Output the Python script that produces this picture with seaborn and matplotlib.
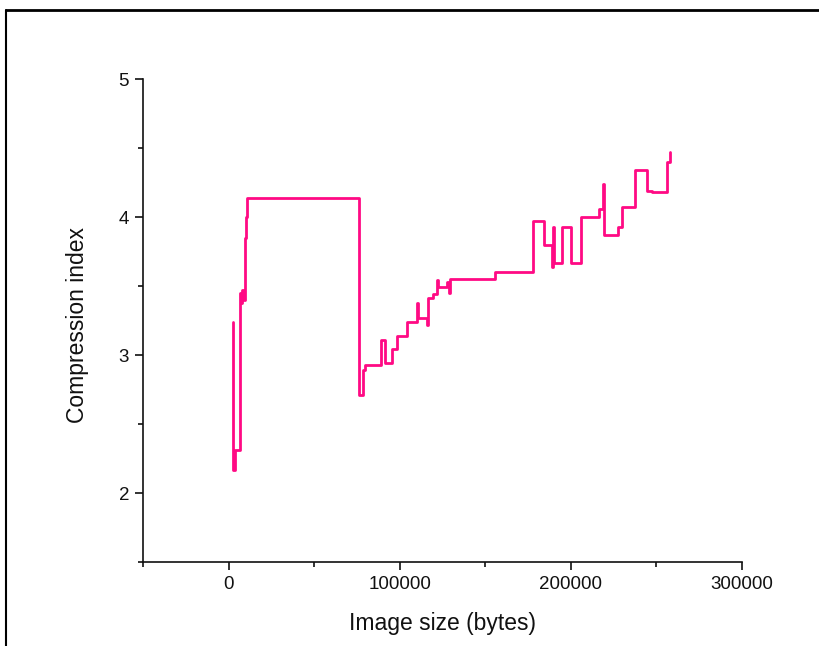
import matplotlib
matplotlib.use("Agg")
import matplotlib.pyplot as plt
from matplotlib.lines import Line2D
from matplotlib.ticker import MultipleLocator
import seaborn as sns
import pandas as pd

# Data: step series (x = image size in bytes, y = compression index)
image_size = [2300, 2400, 3800, 6400, 7200, 8000, 8800, 9400, 9900, 10500,
              76000, 78400, 79500, 88900, 91200, 95300, 98200, 104100,
              110000, 110500, 115800, 116400, 119300, 121600, 122200,
              127500, 128700, 129200, 155600, 177800, 184200, 188900,
              189500, 190000, 194700, 200000, 205800, 216400, 218700,
              219300, 227500, 229800, 237400, 244400, 247400, 256100,
              257900]
compression_index = [3.24, 2.17, 2.31, 3.45, 3.38, 3.47, 3.40, 3.85, 4.00,
                     4.14, 2.71, 2.89, 2.93, 3.11, 2.94, 3.04, 3.14, 3.24,
                     3.38, 3.27, 3.22, 3.41, 3.44, 3.54, 3.49, 3.53, 3.45,
                     3.55, 3.60, 3.97, 3.80, 3.64, 3.93, 3.67, 3.93, 3.67,
                     4.00, 4.06, 4.24, 3.87, 3.93, 4.07, 4.34, 4.19, 4.18,
                     4.40, 4.47]
x_ticks = [0, 100000, 200000, 300000]
y_ticks = [2, 3, 4, 5]

df = pd.DataFrame({"size": image_size, "ci": compression_index})

sns.set_style("ticks")
plt.rcParams["font.family"] = ["Liberation Sans", "DejaVu Sans"]

fig = plt.figure(figsize=(8.2, 6.46), dpi=100)
ax = fig.add_axes([143 / 820, 1 - 562 / 646, (742 - 143) / 820, (562 - 79) / 646])

sns.lineplot(data=df, x="size", y="ci", ax=ax, sort=False, estimator=None,
             drawstyle="steps-post", color="#ff0a84", linewidth=2.0)

ax.set_xlim(-50000, 300000)
ax.set_ylim(1.5, 5)
ax.set_xticks(x_ticks)
ax.set_xticklabels([str(v) for v in x_ticks])
ax.set_yticks(y_ticks)
ax.set_yticklabels([str(v) for v in y_ticks])
ax.xaxis.set_minor_locator(MultipleLocator(50000))
ax.yaxis.set_minor_locator(MultipleLocator(0.5))

for s in ["top", "right"]:
    ax.spines[s].set_visible(False)
for s in ["left", "bottom"]:
    ax.spines[s].set_linewidth(1.2)
    ax.spines[s].set_color("#111111")

ax.tick_params(which="major", direction="out", length=6, width=1.2,
               color="#111111", labelsize=13.5, labelcolor="#111111", pad=4)
ax.tick_params(which="minor", direction="out", length=3.5, width=1.2,
               color="#111111")

ax.set_xlabel("Image size (bytes)", fontsize=16.5, color="#111111")
ax.set_ylabel("Compression index", fontsize=16.5, color="#111111")
ax.xaxis.set_label_coords(0.5, -0.103)
ax.yaxis.set_label_coords(-0.09, 0.49)

# outer frame (only left and top visible in the crop)
fig.add_artist(Line2D([6 / 820, 6 / 820], [0, 1 - 10 / 646],
                      transform=fig.transFigure, color="black", lw=1.5))
fig.add_artist(Line2D([6 / 820, 1], [1 - 10 / 646, 1 - 10 / 646],
                      transform=fig.transFigure, color="black", lw=2))

fig.savefig("out.png", dpi=100, facecolor="white")
